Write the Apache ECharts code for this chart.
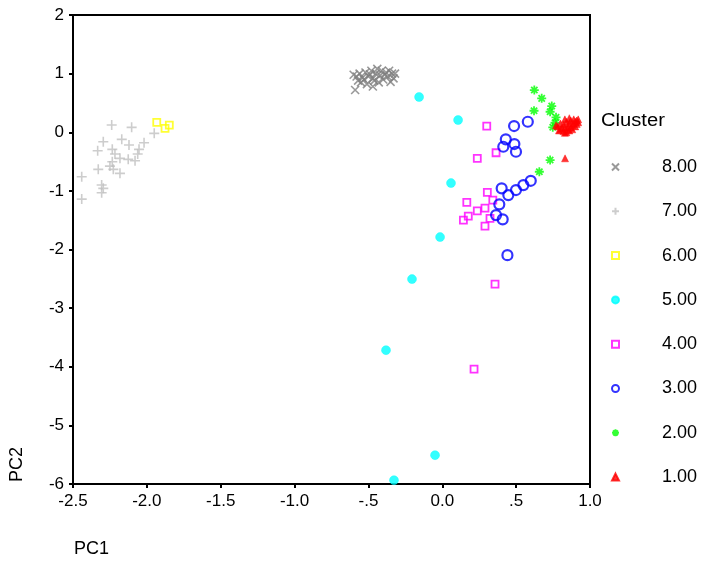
<!DOCTYPE html>
<html><head><meta charset="utf-8">
<script src="https://cdn.jsdelivr.net/npm/echarts@6/dist/echarts.min.js"></script>
<style>html,body{margin:0;padding:0;background:#fff}#c{width:701px;height:569px}</style>
</head><body><div id="c"></div>
<script>
const xTicks = [-2.5, -2.0, -1.5, -1.0, -0.5, 0.0, 0.5, 1.0];
const yTicks = [-6, -5, -4, -3, -2, -1, 0, 1, 2];
const clusterNames = ['8.00','7.00','6.00','5.00','4.00','3.00','2.00','1.00'];

const cluster8 = [[-0.59,0.72],[-0.47,0.78],[-0.35,0.86],[-0.58,0.95],[-0.56,1.0],[-0.53,0.9],[-0.52,1.02],[-0.5,0.95],[-0.48,1.05],[-0.47,0.92],[-0.45,1.0],[-0.44,1.08],[-0.42,0.97],[-0.41,1.05],[-0.4,0.9],[-0.38,1.02],[-0.37,0.95],[-0.36,1.05],[-0.34,1.0],[-0.33,0.92],[-0.55,0.85],[-0.51,0.82],[-0.46,0.88],[-0.43,0.85],[-0.39,0.98],[-0.49,0.99],[-0.54,0.93],[-0.57,0.88],[-0.32,1.0],[-0.6,0.98]];
const cluster7 = [[-2.238,0.123],[-2.103,0.084],[-1.950,-0.019],[-2.295,-0.162],[-2.170,-0.121],[-2.121,-0.218],[-2.019,-0.179],[-2.333,-0.316],[-2.234,-0.292],[-2.053,-0.292],[-2.216,-0.372],[-2.062,-0.372],[-2.182,-0.445],[-2.126,-0.462],[-2.080,-0.486],[-2.234,-0.503],[-2.250,-0.577],[-2.329,-0.633],[-2.227,-0.633],[-2.182,-0.701],[-2.441,-0.759],[-2.306,-0.901],[-2.295,-0.957],[-2.306,-1.032],[-2.441,-1.140]];
const cluster6 = [[-1.933,0.169],[-1.877,0.067],[-1.848,0.123]];
const cluster5 = [[-0.157,0.601],[0.107,0.208],[0.059,-0.867],[-0.015,-1.788],[-0.205,-2.505],[-0.381,-3.717],[-0.049,-5.508],[-0.327,-5.935]];
const cluster4 = [[0.301,0.106],[0.364,-0.350],[0.237,-0.445],[0.305,-1.026],[0.166,-1.196],[0.342,-1.157],[0.237,-1.340],[0.289,-1.294],[0.176,-1.430],[0.143,-1.498],[0.323,-1.469],[0.289,-1.601],[0.357,-2.590],[0.215,-4.041]];
const cluster3 = [[0.486,0.106],[0.579,0.179],[0.430,-0.121],[0.488,-0.201],[0.413,-0.247],[0.499,-0.333],[0.402,-0.957],[0.447,-1.072],[0.499,-0.986],[0.549,-0.901],[0.599,-0.828],[0.386,-1.230],[0.364,-1.413],[0.409,-1.486],[0.441,-2.096]];
const cluster2 = [[0.623,0.720],[0.673,0.578],[0.741,0.447],[0.621,0.367],[0.730,0.350],[0.770,0.254],[0.748,0.084],[0.763,0.162],[0.730,-0.474],[0.657,-0.674]];
const cluster1 = [[0.80,0.05],[0.82,0.02],[0.84,0.00],[0.86,0.03],[0.83,0.08],[0.85,0.10],[0.87,0.08],[0.88,0.12],[0.89,0.15],[0.90,0.18],[0.91,0.20],[0.92,0.17],[0.86,0.15],[0.84,0.18],[0.82,0.13],[0.87,0.20],[0.89,0.22],[0.91,0.14],[0.78,0.10],[0.80,0.15],[0.85,0.05],[0.88,0.05],[0.90,0.10],[0.83,0.22],[0.86,0.24],[0.92,0.22],[0.81,0.07],[0.79,0.03],[0.83,-0.01],[0.77,0.12],[0.831,-0.445]];

const FONT = 'Liberation Sans, Arial, sans-serif';
const chart = echarts.init(document.getElementById('c'));

function xLabel(v){
  if (Math.abs(v-0.5)<1e-9) return '.5';
  if (Math.abs(v+0.5)<1e-9) return '-.5';
  return v.toFixed(1);
}

const seriesDefs = [
  {name:clusterNames[0], data:cluster8, symbol:'path://M0,0L10,10M10,0L0,10', size:8, style:{color:'rgba(0,0,0,0)', borderColor:'#808080', borderWidth:1.6}},
  {name:clusterNames[1], data:cluster7, symbol:'path://M5,0L5,10M0,5L10,5', size:10, style:{color:'rgba(0,0,0,0)', borderColor:'#c0c0c0', borderWidth:1.6}},
  {name:clusterNames[2], data:cluster6, symbol:'rect', size:7, style:{color:'rgba(0,0,0,0)', borderColor:'#ffff00', borderWidth:1.8}},
  {name:clusterNames[3], data:cluster5, symbol:'circle', size:9, style:{color:'#00ffff', borderColor:'#00ffff', borderWidth:0.5}},
  {name:clusterNames[4], data:cluster4, symbol:'rect', size:7, style:{color:'rgba(0,0,0,0)', borderColor:'#ff00ff', borderWidth:1.8}},
  {name:clusterNames[5], data:cluster3, symbol:'circle', size:10, style:{color:'rgba(0,0,0,0)', borderColor:'#0000ff', borderWidth:2.2}},
  {name:clusterNames[6], data:cluster2, symbol:'path://M5,0L5,10M0,5L10,5M1.5,1.5L8.5,8.5M8.5,1.5L1.5,8.5', size:9, style:{color:'rgba(0,0,0,0)', borderColor:'#00ff00', borderWidth:1.8}},
  {name:clusterNames[7], data:cluster1, symbol:'triangle', size:7, style:{color:'#ff0000', borderColor:'#ff0000', borderWidth:0.5}}
];

chart.setOption({
  animation:false,
  grid:{left:73, right:111, top:15, bottom:85, show:true, borderColor:'#000', borderWidth:2},
  xAxis:{type:'value', min:-2.5, max:1.0, interval:0.5,
    axisLine:{show:true, onZero:false, lineStyle:{color:'#000', width:2}},
    axisTick:{show:true, length:4, lineStyle:{color:'#000', width:2}},
    splitLine:{show:false},
    axisLabel:{color:'#000', fontFamily:FONT, fontSize:17, margin:9, formatter:xLabel}},
  yAxis:{type:'value', min:-6, max:2, interval:1,
    axisLine:{show:true, onZero:false, lineStyle:{color:'#000', width:2}},
    axisTick:{show:true, length:4, lineStyle:{color:'#000', width:2}},
    splitLine:{show:false},
    axisLabel:{color:'#000', fontFamily:FONT, fontSize:17, margin:9}},
  legend:{orient:'vertical', left:606, top:153, itemWidth:7, itemHeight:7, itemGap:26.3,
    data:clusterNames,
    textStyle:{color:'#000', fontFamily:FONT, fontSize:18, lineHeight:18, padding:[0,0,0,38]}},
  graphic:[
    {type:'text', left:601, top:112, scaleX:1.12, style:{text:'Cluster', fill:'#000', font:'18px '+FONT}},
    {type:'text', left:74, top:540, style:{text:'PC1', fill:'#000', font:'18px '+FONT}},
    {type:'text', x:8, y:482, rotation:Math.PI/2, style:{text:'PC2', fill:'#000', font:'18px '+FONT}}
  ],
  series: seriesDefs.map(d => ({
    type:'scatter', name:d.name, data:d.data, symbol:d.symbol, symbolSize:d.size,
    itemStyle:d.style, emphasis:{disabled:true}
  }))
});
</script></body></html>
